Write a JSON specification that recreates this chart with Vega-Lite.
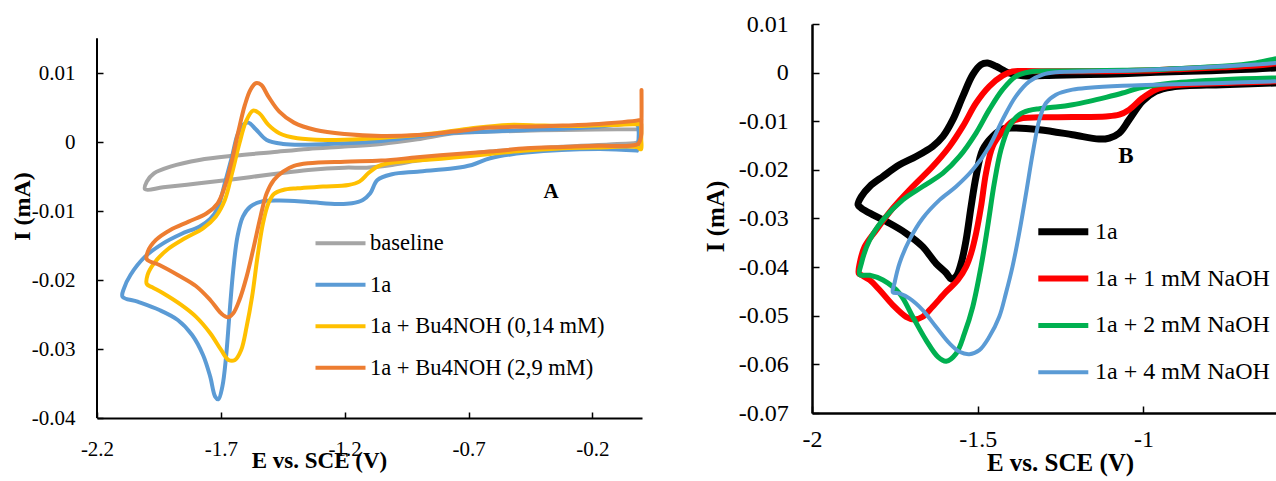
{
"$schema": "https://vega.github.io/schema/vega-lite/v6.json",
"autosize": {"type": "pad"},
"padding": {"left": 10, "top": 12, "right": 0, "bottom": 6},
"background": "white",
"bounds": "flush",
"spacing": 170,
"config": {"view": {"stroke": null}, "axis": {"grid": false, "labelFont": "Liberation Serif", "titleFont": "Liberation Serif", "labelColor": "black", "titleColor": "black", "domainColor": "black", "tickColor": "black", "labelFlush": false, "labelOverlap": false}},
"datasets": {
"a": [
{"s":"baseline","i":1,"E":-0.004,"I":0.00193},{"s":"baseline","i":2,"E":-0.320,"I":0.00179},{"s":"baseline","i":3,"E":-0.613,"I":0.00155},{"s":"baseline","i":4,"E":-0.760,"I":0.00131},{"s":"baseline","i":5,"E":-0.907,"I":0.00044},{"s":"baseline","i":6,"E":-1.053,"I":-0.00024},{"s":"baseline","i":7,"E":-1.200,"I":-0.00063},{"s":"baseline","i":8,"E":-1.347,"I":-0.00097},{"s":"baseline","i":9,"E":-1.493,"I":-0.00145},{"s":"baseline","i":10,"E":-1.640,"I":-0.00193},{"s":"baseline","i":11,"E":-1.787,"I":-0.00256},{"s":"baseline","i":12,"E":-1.904,"I":-0.00353},{"s":"baseline","i":13,"E":-1.970,"I":-0.0045},{"s":"baseline","i":14,"E":-1.999,"I":-0.00571},{"s":"baseline","i":15,"E":-2.006,"I":-0.00682},{"s":"baseline","i":16,"E":-1.933,"I":-0.00653},{"s":"baseline","i":17,"E":-1.787,"I":-0.00595},{"s":"baseline","i":18,"E":-1.640,"I":-0.00532},{"s":"baseline","i":19,"E":-1.493,"I":-0.00464},{"s":"baseline","i":20,"E":-1.347,"I":-0.00401},{"s":"baseline","i":21,"E":-1.200,"I":-0.00368},{"s":"baseline","i":22,"E":-1.112,"I":-0.00368},{"s":"baseline","i":23,"E":-1.009,"I":-0.00329},{"s":"baseline","i":24,"E":-0.907,"I":-0.00266},{"s":"baseline","i":25,"E":-0.760,"I":-0.00198},{"s":"baseline","i":26,"E":-0.613,"I":-0.00135},{"s":"baseline","i":27,"E":-0.320,"I":-0.00063},{"s":"baseline","i":28,"E":-0.100,"I":-0.00024},{"s":"baseline","i":29,"E":-0.012,"I":0.0001},{"s":"baseline","i":30,"E":-0.004,"I":0.00106},{"s":"baseline","i":31,"E":-0.004,"I":0.00193},
{"s":"1a","i":1,"E":-0.020,"I":-0.00121},{"s":"1a","i":2,"E":-0.174,"I":-0.00097},{"s":"1a","i":3,"E":-0.467,"I":-0.0015},{"s":"1a","i":4,"E":-0.613,"I":-0.00232},{"s":"1a","i":5,"E":-0.687,"I":-0.00329},{"s":"1a","i":6,"E":-0.760,"I":-0.00377},{"s":"1a","i":7,"E":-0.907,"I":-0.00426},{"s":"1a","i":8,"E":-1.009,"I":-0.00464},{"s":"1a","i":9,"E":-1.068,"I":-0.00547},{"s":"1a","i":10,"E":-1.097,"I":-0.0074},{"s":"1a","i":11,"E":-1.127,"I":-0.00837},{"s":"1a","i":12,"E":-1.171,"I":-0.00885},{"s":"1a","i":13,"E":-1.229,"I":-0.00895},{"s":"1a","i":14,"E":-1.347,"I":-0.00866},{"s":"1a","i":15,"E":-1.464,"I":-0.00846},{"s":"1a","i":16,"E":-1.537,"I":-0.00861},{"s":"1a","i":17,"E":-1.581,"I":-0.00933},{"s":"1a","i":18,"E":-1.611,"I":-0.01079},{"s":"1a","i":19,"E":-1.633,"I":-0.01369},{"s":"1a","i":20,"E":-1.650,"I":-0.01852},{"s":"1a","i":21,"E":-1.665,"I":-0.02481},{"s":"1a","i":22,"E":-1.679,"I":-0.0311},{"s":"1a","i":23,"E":-1.694,"I":-0.03545},{"s":"1a","i":24,"E":-1.710,"I":-0.03729},{"s":"1a","i":25,"E":-1.723,"I":-0.0369},{"s":"1a","i":26,"E":-1.743,"I":-0.034},{"s":"1a","i":27,"E":-1.772,"I":-0.03086},{"s":"1a","i":28,"E":-1.816,"I":-0.02796},{"s":"1a","i":29,"E":-1.874,"I":-0.02578},{"s":"1a","i":30,"E":-1.948,"I":-0.02433},{"s":"1a","i":31,"E":-2.036,"I":-0.02312},{"s":"1a","i":32,"E":-2.097,"I":-0.0224},{"s":"1a","i":33,"E":-2.091,"I":-0.02118},{"s":"1a","i":34,"E":-2.065,"I":-0.01925},{"s":"1a","i":35,"E":-2.006,"I":-0.01659},{"s":"1a","i":36,"E":-1.933,"I":-0.01466},{"s":"1a","i":37,"E":-1.860,"I":-0.0133},{"s":"1a","i":38,"E":-1.787,"I":-0.01224},{"s":"1a","i":39,"E":-1.743,"I":-0.01112},{"s":"1a","i":40,"E":-1.713,"I":-0.00958},{"s":"1a","i":41,"E":-1.684,"I":-0.00595},{"s":"1a","i":42,"E":-1.655,"I":-0.00208},{"s":"1a","i":43,"E":-1.633,"I":0.00106},{"s":"1a","i":44,"E":-1.611,"I":0.00252},{"s":"1a","i":45,"E":-1.589,"I":0.00285},{"s":"1a","i":46,"E":-1.559,"I":0.00189},{"s":"1a","i":47,"E":-1.515,"I":0.00034},{"s":"1a","i":48,"E":-1.449,"I":-0.00024},{"s":"1a","i":49,"E":-1.347,"I":-0.00034},{"s":"1a","i":50,"E":-1.200,"I":-0.00015},{"s":"1a","i":51,"E":-1.053,"I":0.00019},{"s":"1a","i":52,"E":-0.907,"I":0.00082},{"s":"1a","i":53,"E":-0.760,"I":0.0014},{"s":"1a","i":54,"E":-0.613,"I":0.00155},{"s":"1a","i":55,"E":-0.467,"I":0.00179},{"s":"1a","i":56,"E":-0.320,"I":0.00198},{"s":"1a","i":57,"E":-0.174,"I":0.00227},{"s":"1a","i":58,"E":-0.020,"I":0.00256},{"s":"1a","i":59,"E":-0.014,"I":0.00179},{"s":"1a","i":60,"E":-0.016,"I":-0.0004},{"s":"1a","i":61,"E":-0.020,"I":-0.00121},
{"s":"1a + Bu4NOH (0,14 mM)","i":1,"E":-0.003,"I":0.00266},{"s":"1a + Bu4NOH (0,14 mM)","i":2,"E":-0.003,"I":0.0005},{"s":"1a + Bu4NOH (0,14 mM)","i":3,"E":-0.004,"I":-0.00102},{"s":"1a + Bu4NOH (0,14 mM)","i":4,"E":-0.020,"I":-0.0007},{"s":"1a + Bu4NOH (0,14 mM)","i":5,"E":-0.174,"I":-0.00075},{"s":"1a + Bu4NOH (0,14 mM)","i":6,"E":-0.320,"I":-0.00087},{"s":"1a + Bu4NOH (0,14 mM)","i":7,"E":-0.467,"I":-0.00121},{"s":"1a + Bu4NOH (0,14 mM)","i":8,"E":-0.613,"I":-0.00169},{"s":"1a + Bu4NOH (0,14 mM)","i":9,"E":-0.760,"I":-0.00222},{"s":"1a + Bu4NOH (0,14 mM)","i":10,"E":-0.907,"I":-0.00266},{"s":"1a + Bu4NOH (0,14 mM)","i":11,"E":-1.024,"I":-0.00305},{"s":"1a + Bu4NOH (0,14 mM)","i":12,"E":-1.068,"I":-0.00353},{"s":"1a + Bu4NOH (0,14 mM)","i":13,"E":-1.105,"I":-0.0045},{"s":"1a + Bu4NOH (0,14 mM)","i":14,"E":-1.141,"I":-0.00571},{"s":"1a + Bu4NOH (0,14 mM)","i":15,"E":-1.185,"I":-0.00619},{"s":"1a + Bu4NOH (0,14 mM)","i":16,"E":-1.288,"I":-0.00643},{"s":"1a + Bu4NOH (0,14 mM)","i":17,"E":-1.391,"I":-0.00667},{"s":"1a + Bu4NOH (0,14 mM)","i":18,"E":-1.449,"I":-0.00692},{"s":"1a + Bu4NOH (0,14 mM)","i":19,"E":-1.486,"I":-0.0075},{"s":"1a + Bu4NOH (0,14 mM)","i":20,"E":-1.508,"I":-0.00885},{"s":"1a + Bu4NOH (0,14 mM)","i":21,"E":-1.530,"I":-0.01175},{"s":"1a + Bu4NOH (0,14 mM)","i":22,"E":-1.552,"I":-0.01659},{"s":"1a + Bu4NOH (0,14 mM)","i":23,"E":-1.574,"I":-0.0224},{"s":"1a + Bu4NOH (0,14 mM)","i":24,"E":-1.596,"I":-0.02675},{"s":"1a + Bu4NOH (0,14 mM)","i":25,"E":-1.618,"I":-0.03013},{"s":"1a + Bu4NOH (0,14 mM)","i":26,"E":-1.643,"I":-0.03158},{"s":"1a + Bu4NOH (0,14 mM)","i":27,"E":-1.669,"I":-0.03158},{"s":"1a + Bu4NOH (0,14 mM)","i":28,"E":-1.699,"I":-0.03013},{"s":"1a + Bu4NOH (0,14 mM)","i":29,"E":-1.743,"I":-0.02771},{"s":"1a + Bu4NOH (0,14 mM)","i":30,"E":-1.801,"I":-0.0253},{"s":"1a + Bu4NOH (0,14 mM)","i":31,"E":-1.860,"I":-0.0236},{"s":"1a + Bu4NOH (0,14 mM)","i":32,"E":-1.933,"I":-0.02191},{"s":"1a + Bu4NOH (0,14 mM)","i":33,"E":-1.977,"I":-0.02104},{"s":"1a + Bu4NOH (0,14 mM)","i":34,"E":-1.999,"I":-0.02056},{"s":"1a + Bu4NOH (0,14 mM)","i":35,"E":-1.996,"I":-0.01925},{"s":"1a + Bu4NOH (0,14 mM)","i":36,"E":-1.970,"I":-0.01756},{"s":"1a + Bu4NOH (0,14 mM)","i":37,"E":-1.918,"I":-0.01562},{"s":"1a + Bu4NOH (0,14 mM)","i":38,"E":-1.845,"I":-0.01393},{"s":"1a + Bu4NOH (0,14 mM)","i":39,"E":-1.772,"I":-0.01248},{"s":"1a + Bu4NOH (0,14 mM)","i":40,"E":-1.721,"I":-0.01079},{"s":"1a + Bu4NOH (0,14 mM)","i":41,"E":-1.684,"I":-0.00837},{"s":"1a + Bu4NOH (0,14 mM)","i":42,"E":-1.655,"I":-0.0045},{"s":"1a + Bu4NOH (0,14 mM)","i":43,"E":-1.625,"I":-0.00015},{"s":"1a + Bu4NOH (0,14 mM)","i":44,"E":-1.599,"I":0.003},{"s":"1a + Bu4NOH (0,14 mM)","i":45,"E":-1.570,"I":0.00459},{"s":"1a + Bu4NOH (0,14 mM)","i":46,"E":-1.545,"I":0.00421},{"s":"1a + Bu4NOH (0,14 mM)","i":47,"E":-1.508,"I":0.00252},{"s":"1a + Bu4NOH (0,14 mM)","i":48,"E":-1.464,"I":0.00131},{"s":"1a + Bu4NOH (0,14 mM)","i":49,"E":-1.391,"I":0.00058},{"s":"1a + Bu4NOH (0,14 mM)","i":50,"E":-1.273,"I":0.00034},{"s":"1a + Bu4NOH (0,14 mM)","i":51,"E":-1.127,"I":0.00048},{"s":"1a + Bu4NOH (0,14 mM)","i":52,"E":-0.980,"I":0.00082},{"s":"1a + Bu4NOH (0,14 mM)","i":53,"E":-0.833,"I":0.00131},{"s":"1a + Bu4NOH (0,14 mM)","i":54,"E":-0.687,"I":0.00203},{"s":"1a + Bu4NOH (0,14 mM)","i":55,"E":-0.540,"I":0.00252},{"s":"1a + Bu4NOH (0,14 mM)","i":56,"E":-0.394,"I":0.00242},{"s":"1a + Bu4NOH (0,14 mM)","i":57,"E":-0.247,"I":0.00237},{"s":"1a + Bu4NOH (0,14 mM)","i":58,"E":-0.100,"I":0.00252},{"s":"1a + Bu4NOH (0,14 mM)","i":59,"E":-0.005,"I":0.00266},{"s":"1a + Bu4NOH (0,14 mM)","i":60,"E":-0.003,"I":0.00266},
{"s":"1a + Bu4NOH (2,9 mM)","i":1,"E":-0.002,"I":0.0076},{"s":"1a + Bu4NOH (2,9 mM)","i":2,"E":-0.002,"I":0.003},{"s":"1a + Bu4NOH (2,9 mM)","i":3,"E":-0.004,"I":0.0008},{"s":"1a + Bu4NOH (2,9 mM)","i":4,"E":-0.015,"I":-0.0002},{"s":"1a + Bu4NOH (2,9 mM)","i":5,"E":-0.050,"I":-0.0005},{"s":"1a + Bu4NOH (2,9 mM)","i":6,"E":-0.174,"I":-0.0005},{"s":"1a + Bu4NOH (2,9 mM)","i":7,"E":-0.320,"I":-0.00068},{"s":"1a + Bu4NOH (2,9 mM)","i":8,"E":-0.467,"I":-0.00087},{"s":"1a + Bu4NOH (2,9 mM)","i":9,"E":-0.613,"I":-0.00135},{"s":"1a + Bu4NOH (2,9 mM)","i":10,"E":-0.760,"I":-0.00174},{"s":"1a + Bu4NOH (2,9 mM)","i":11,"E":-0.907,"I":-0.00218},{"s":"1a + Bu4NOH (2,9 mM)","i":12,"E":-1.053,"I":-0.00266},{"s":"1a + Bu4NOH (2,9 mM)","i":13,"E":-1.200,"I":-0.00281},{"s":"1a + Bu4NOH (2,9 mM)","i":14,"E":-1.347,"I":-0.00305},{"s":"1a + Bu4NOH (2,9 mM)","i":15,"E":-1.405,"I":-0.00343},{"s":"1a + Bu4NOH (2,9 mM)","i":16,"E":-1.449,"I":-0.00426},{"s":"1a + Bu4NOH (2,9 mM)","i":17,"E":-1.486,"I":-0.00547},{"s":"1a + Bu4NOH (2,9 mM)","i":18,"E":-1.515,"I":-0.0074},{"s":"1a + Bu4NOH (2,9 mM)","i":19,"E":-1.540,"I":-0.01079},{"s":"1a + Bu4NOH (2,9 mM)","i":20,"E":-1.567,"I":-0.01514},{"s":"1a + Bu4NOH (2,9 mM)","i":21,"E":-1.596,"I":-0.01949},{"s":"1a + Bu4NOH (2,9 mM)","i":22,"E":-1.625,"I":-0.02288},{"s":"1a + Bu4NOH (2,9 mM)","i":23,"E":-1.650,"I":-0.02481},{"s":"1a + Bu4NOH (2,9 mM)","i":24,"E":-1.672,"I":-0.02539},{"s":"1a + Bu4NOH (2,9 mM)","i":25,"E":-1.699,"I":-0.02481},{"s":"1a + Bu4NOH (2,9 mM)","i":26,"E":-1.743,"I":-0.02288},{"s":"1a + Bu4NOH (2,9 mM)","i":27,"E":-1.801,"I":-0.02085},{"s":"1a + Bu4NOH (2,9 mM)","i":28,"E":-1.874,"I":-0.01925},{"s":"1a + Bu4NOH (2,9 mM)","i":29,"E":-1.948,"I":-0.0178},{"s":"1a + Bu4NOH (2,9 mM)","i":30,"E":-1.999,"I":-0.01698},{"s":"1a + Bu4NOH (2,9 mM)","i":31,"E":-1.995,"I":-0.01586},{"s":"1a + Bu4NOH (2,9 mM)","i":32,"E":-1.962,"I":-0.01417},{"s":"1a + Bu4NOH (2,9 mM)","i":33,"E":-1.904,"I":-0.01272},{"s":"1a + Bu4NOH (2,9 mM)","i":34,"E":-1.830,"I":-0.01151},{"s":"1a + Bu4NOH (2,9 mM)","i":35,"E":-1.757,"I":-0.0103},{"s":"1a + Bu4NOH (2,9 mM)","i":36,"E":-1.713,"I":-0.00885},{"s":"1a + Bu4NOH (2,9 mM)","i":37,"E":-1.684,"I":-0.00643},{"s":"1a + Bu4NOH (2,9 mM)","i":38,"E":-1.655,"I":-0.00256},{"s":"1a + Bu4NOH (2,9 mM)","i":39,"E":-1.628,"I":0.00179},{"s":"1a + Bu4NOH (2,9 mM)","i":40,"E":-1.603,"I":0.00542},{"s":"1a + Bu4NOH (2,9 mM)","i":41,"E":-1.581,"I":0.00759},{"s":"1a + Bu4NOH (2,9 mM)","i":42,"E":-1.559,"I":0.00856},{"s":"1a + Bu4NOH (2,9 mM)","i":43,"E":-1.537,"I":0.00832},{"s":"1a + Bu4NOH (2,9 mM)","i":44,"E":-1.508,"I":0.00663},{"s":"1a + Bu4NOH (2,9 mM)","i":45,"E":-1.464,"I":0.00445},{"s":"1a + Bu4NOH (2,9 mM)","i":46,"E":-1.405,"I":0.00285},{"s":"1a + Bu4NOH (2,9 mM)","i":47,"E":-1.317,"I":0.00179},{"s":"1a + Bu4NOH (2,9 mM)","i":48,"E":-1.200,"I":0.00121},{"s":"1a + Bu4NOH (2,9 mM)","i":49,"E":-1.053,"I":0.00092},{"s":"1a + Bu4NOH (2,9 mM)","i":50,"E":-0.907,"I":0.00106},{"s":"1a + Bu4NOH (2,9 mM)","i":51,"E":-0.760,"I":0.00155},{"s":"1a + Bu4NOH (2,9 mM)","i":52,"E":-0.613,"I":0.00213},{"s":"1a + Bu4NOH (2,9 mM)","i":53,"E":-0.467,"I":0.00227},{"s":"1a + Bu4NOH (2,9 mM)","i":54,"E":-0.320,"I":0.00242},{"s":"1a + Bu4NOH (2,9 mM)","i":55,"E":-0.174,"I":0.00266},{"s":"1a + Bu4NOH (2,9 mM)","i":56,"E":-0.005,"I":0.00324},{"s":"1a + Bu4NOH (2,9 mM)","i":57,"E":-0.002,"I":0.0033}
],
"b": [
{"s":"1a","i":1,"E":-0.603,"I":-0.00213},{"s":"1a","i":2,"E":-0.762,"I":-0.00247},{"s":"1a","i":3,"E":-0.913,"I":-0.00295},{"s":"1a","i":4,"E":-0.963,"I":-0.00385},{"s":"1a","i":5,"E":-1.003,"I":-0.00591},{"s":"1a","i":6,"E":-1.043,"I":-0.00968},{"s":"1a","i":7,"E":-1.073,"I":-0.01243},{"s":"1a","i":8,"E":-1.103,"I":-0.01346},{"s":"1a","i":9,"E":-1.134,"I":-0.01367},{"s":"1a","i":10,"E":-1.214,"I":-0.01277},{"s":"1a","i":11,"E":-1.314,"I":-0.01174},{"s":"1a","i":12,"E":-1.385,"I":-0.0114},{"s":"1a","i":13,"E":-1.425,"I":-0.01161},{"s":"1a","i":14,"E":-1.455,"I":-0.01312},{"s":"1a","i":15,"E":-1.485,"I":-0.01587},{"s":"1a","i":16,"E":-1.505,"I":-0.02136},{"s":"1a","i":17,"E":-1.520,"I":-0.02754},{"s":"1a","i":18,"E":-1.535,"I":-0.03441},{"s":"1a","i":19,"E":-1.550,"I":-0.03922},{"s":"1a","i":20,"E":-1.565,"I":-0.04189},{"s":"1a","i":21,"E":-1.580,"I":-0.04245},{"s":"1a","i":22,"E":-1.595,"I":-0.04121},{"s":"1a","i":23,"E":-1.626,"I":-0.03922},{"s":"1a","i":24,"E":-1.666,"I":-0.03578},{"s":"1a","i":25,"E":-1.716,"I":-0.03304},{"s":"1a","i":26,"E":-1.766,"I":-0.03098},{"s":"1a","i":27,"E":-1.816,"I":-0.02926},{"s":"1a","i":28,"E":-1.851,"I":-0.02788},{"s":"1a","i":29,"E":-1.861,"I":-0.0272},{"s":"1a","i":30,"E":-1.851,"I":-0.02548},{"s":"1a","i":31,"E":-1.826,"I":-0.02342},{"s":"1a","i":32,"E":-1.786,"I":-0.02136},{"s":"1a","i":33,"E":-1.736,"I":-0.01896},{"s":"1a","i":34,"E":-1.686,"I":-0.01724},{"s":"1a","i":35,"E":-1.636,"I":-0.01518},{"s":"1a","i":36,"E":-1.605,"I":-0.01312},{"s":"1a","i":37,"E":-1.575,"I":-0.00968},{"s":"1a","i":38,"E":-1.545,"I":-0.00488},{"s":"1a","i":39,"E":-1.515,"I":-0.00041},{"s":"1a","i":40,"E":-1.490,"I":0.00165},{"s":"1a","i":41,"E":-1.470,"I":0.00199},{"s":"1a","i":42,"E":-1.445,"I":0.0013},{"s":"1a","i":43,"E":-1.405,"I":-0.00007},{"s":"1a","i":44,"E":-1.364,"I":-0.00062},{"s":"1a","i":45,"E":-1.264,"I":-0.00055},{"s":"1a","i":46,"E":-1.164,"I":-0.00041},{"s":"1a","i":47,"E":-1.063,"I":-0.00021},{"s":"1a","i":48,"E":-0.963,"I":0.00007},{"s":"1a","i":49,"E":-0.862,"I":0.00027},{"s":"1a","i":50,"E":-0.762,"I":0.00048},{"s":"1a","i":51,"E":-0.662,"I":0.00076},{"s":"1a","i":52,"E":-0.603,"I":0.00096},
{"s":"1a + 1 mM NaOH","i":1,"E":-0.603,"I":-0.00179},{"s":"1a + 1 mM NaOH","i":2,"E":-0.762,"I":-0.00213},{"s":"1a + 1 mM NaOH","i":3,"E":-0.913,"I":-0.00268},{"s":"1a + 1 mM NaOH","i":4,"E":-0.963,"I":-0.0035},{"s":"1a + 1 mM NaOH","i":5,"E":-1.003,"I":-0.00522},{"s":"1a + 1 mM NaOH","i":6,"E":-1.043,"I":-0.00762},{"s":"1a + 1 mM NaOH","i":7,"E":-1.073,"I":-0.00865},{"s":"1a + 1 mM NaOH","i":8,"E":-1.113,"I":-0.009},{"s":"1a + 1 mM NaOH","i":9,"E":-1.214,"I":-0.00913},{"s":"1a + 1 mM NaOH","i":10,"E":-1.314,"I":-0.0092},{"s":"1a + 1 mM NaOH","i":11,"E":-1.364,"I":-0.00934},{"s":"1a + 1 mM NaOH","i":12,"E":-1.395,"I":-0.01003},{"s":"1a + 1 mM NaOH","i":13,"E":-1.425,"I":-0.01209},{"s":"1a + 1 mM NaOH","i":14,"E":-1.455,"I":-0.01518},{"s":"1a + 1 mM NaOH","i":15,"E":-1.475,"I":-0.02067},{"s":"1a + 1 mM NaOH","i":16,"E":-1.490,"I":-0.02754},{"s":"1a + 1 mM NaOH","i":17,"E":-1.505,"I":-0.03304},{"s":"1a + 1 mM NaOH","i":18,"E":-1.520,"I":-0.03716},{"s":"1a + 1 mM NaOH","i":19,"E":-1.535,"I":-0.0399},{"s":"1a + 1 mM NaOH","i":20,"E":-1.560,"I":-0.04265},{"s":"1a + 1 mM NaOH","i":21,"E":-1.595,"I":-0.04505},{"s":"1a + 1 mM NaOH","i":22,"E":-1.636,"I":-0.04815},{"s":"1a + 1 mM NaOH","i":23,"E":-1.666,"I":-0.05021},{"s":"1a + 1 mM NaOH","i":24,"E":-1.691,"I":-0.05076},{"s":"1a + 1 mM NaOH","i":25,"E":-1.716,"I":-0.05021},{"s":"1a + 1 mM NaOH","i":26,"E":-1.756,"I":-0.0478},{"s":"1a + 1 mM NaOH","i":27,"E":-1.796,"I":-0.04471},{"s":"1a + 1 mM NaOH","i":28,"E":-1.826,"I":-0.04265},{"s":"1a + 1 mM NaOH","i":29,"E":-1.851,"I":-0.04162},{"s":"1a + 1 mM NaOH","i":30,"E":-1.859,"I":-0.04128},{"s":"1a + 1 mM NaOH","i":31,"E":-1.856,"I":-0.03922},{"s":"1a + 1 mM NaOH","i":32,"E":-1.841,"I":-0.03578},{"s":"1a + 1 mM NaOH","i":33,"E":-1.806,"I":-0.03235},{"s":"1a + 1 mM NaOH","i":34,"E":-1.756,"I":-0.02788},{"s":"1a + 1 mM NaOH","i":35,"E":-1.696,"I":-0.02342},{"s":"1a + 1 mM NaOH","i":36,"E":-1.636,"I":-0.0193},{"s":"1a + 1 mM NaOH","i":37,"E":-1.585,"I":-0.01518},{"s":"1a + 1 mM NaOH","i":38,"E":-1.545,"I":-0.01106},{"s":"1a + 1 mM NaOH","i":39,"E":-1.505,"I":-0.00625},{"s":"1a + 1 mM NaOH","i":40,"E":-1.465,"I":-0.00282},{"s":"1a + 1 mM NaOH","i":41,"E":-1.425,"I":-0.00062},{"s":"1a + 1 mM NaOH","i":42,"E":-1.395,"I":0.00027},{"s":"1a + 1 mM NaOH","i":43,"E":-1.364,"I":0.00034},{"s":"1a + 1 mM NaOH","i":44,"E":-1.264,"I":0.00027},{"s":"1a + 1 mM NaOH","i":45,"E":-1.164,"I":0.00027},{"s":"1a + 1 mM NaOH","i":46,"E":-1.063,"I":0.00034},{"s":"1a + 1 mM NaOH","i":47,"E":-0.963,"I":0.00048},{"s":"1a + 1 mM NaOH","i":48,"E":-0.862,"I":0.00082},{"s":"1a + 1 mM NaOH","i":49,"E":-0.762,"I":0.0011},{"s":"1a + 1 mM NaOH","i":50,"E":-0.662,"I":0.00144},{"s":"1a + 1 mM NaOH","i":51,"E":-0.603,"I":0.00185},
{"s":"1a + 2 mM NaOH","i":1,"E":-0.603,"I":-0.0011},{"s":"1a + 2 mM NaOH","i":2,"E":-0.762,"I":-0.00144},{"s":"1a + 2 mM NaOH","i":3,"E":-0.913,"I":-0.00213},{"s":"1a + 2 mM NaOH","i":4,"E":-1.013,"I":-0.00316},{"s":"1a + 2 mM NaOH","i":5,"E":-1.063,"I":-0.00419},{"s":"1a + 2 mM NaOH","i":6,"E":-1.113,"I":-0.00508},{"s":"1a + 2 mM NaOH","i":7,"E":-1.164,"I":-0.00591},{"s":"1a + 2 mM NaOH","i":8,"E":-1.214,"I":-0.00659},{"s":"1a + 2 mM NaOH","i":9,"E":-1.264,"I":-0.00707},{"s":"1a + 2 mM NaOH","i":10,"E":-1.314,"I":-0.00742},{"s":"1a + 2 mM NaOH","i":11,"E":-1.344,"I":-0.00776},{"s":"1a + 2 mM NaOH","i":12,"E":-1.375,"I":-0.00865},{"s":"1a + 2 mM NaOH","i":13,"E":-1.405,"I":-0.01106},{"s":"1a + 2 mM NaOH","i":14,"E":-1.430,"I":-0.01587},{"s":"1a + 2 mM NaOH","i":15,"E":-1.450,"I":-0.02273},{"s":"1a + 2 mM NaOH","i":16,"E":-1.470,"I":-0.03166},{"s":"1a + 2 mM NaOH","i":17,"E":-1.490,"I":-0.0399},{"s":"1a + 2 mM NaOH","i":18,"E":-1.515,"I":-0.04815},{"s":"1a + 2 mM NaOH","i":19,"E":-1.540,"I":-0.05364},{"s":"1a + 2 mM NaOH","i":20,"E":-1.565,"I":-0.05776},{"s":"1a + 2 mM NaOH","i":21,"E":-1.595,"I":-0.05934},{"s":"1a + 2 mM NaOH","i":22,"E":-1.620,"I":-0.05845},{"s":"1a + 2 mM NaOH","i":23,"E":-1.656,"I":-0.05501},{"s":"1a + 2 mM NaOH","i":24,"E":-1.696,"I":-0.05021},{"s":"1a + 2 mM NaOH","i":25,"E":-1.736,"I":-0.0454},{"s":"1a + 2 mM NaOH","i":26,"E":-1.786,"I":-0.04265},{"s":"1a + 2 mM NaOH","i":27,"E":-1.826,"I":-0.04168},{"s":"1a + 2 mM NaOH","i":28,"E":-1.856,"I":-0.04155},{"s":"1a + 2 mM NaOH","i":29,"E":-1.851,"I":-0.03922},{"s":"1a + 2 mM NaOH","i":30,"E":-1.826,"I":-0.03441},{"s":"1a + 2 mM NaOH","i":31,"E":-1.786,"I":-0.03029},{"s":"1a + 2 mM NaOH","i":32,"E":-1.726,"I":-0.02617},{"s":"1a + 2 mM NaOH","i":33,"E":-1.666,"I":-0.02342},{"s":"1a + 2 mM NaOH","i":34,"E":-1.605,"I":-0.02067},{"s":"1a + 2 mM NaOH","i":35,"E":-1.555,"I":-0.01724},{"s":"1a + 2 mM NaOH","i":36,"E":-1.505,"I":-0.01243},{"s":"1a + 2 mM NaOH","i":37,"E":-1.465,"I":-0.00762},{"s":"1a + 2 mM NaOH","i":38,"E":-1.425,"I":-0.0035},{"s":"1a + 2 mM NaOH","i":39,"E":-1.385,"I":-0.00076},{"s":"1a + 2 mM NaOH","i":40,"E":-1.344,"I":0.00014},{"s":"1a + 2 mM NaOH","i":41,"E":-1.264,"I":0.00034},{"s":"1a + 2 mM NaOH","i":42,"E":-1.164,"I":0.00041},{"s":"1a + 2 mM NaOH","i":43,"E":-1.063,"I":0.00048},{"s":"1a + 2 mM NaOH","i":44,"E":-0.963,"I":0.00062},{"s":"1a + 2 mM NaOH","i":45,"E":-0.862,"I":0.00096},{"s":"1a + 2 mM NaOH","i":46,"E":-0.762,"I":0.0013},{"s":"1a + 2 mM NaOH","i":47,"E":-0.662,"I":0.00199},{"s":"1a + 2 mM NaOH","i":48,"E":-0.603,"I":0.00282},
{"s":"1a + 4 mM NaOH","i":1,"E":-0.603,"I":-0.00179},{"s":"1a + 4 mM NaOH","i":2,"E":-0.762,"I":-0.00213},{"s":"1a + 4 mM NaOH","i":3,"E":-0.963,"I":-0.00247},{"s":"1a + 4 mM NaOH","i":4,"E":-1.063,"I":-0.00268},{"s":"1a + 4 mM NaOH","i":5,"E":-1.164,"I":-0.00309},{"s":"1a + 4 mM NaOH","i":6,"E":-1.214,"I":-0.0035},{"s":"1a + 4 mM NaOH","i":7,"E":-1.264,"I":-0.00453},{"s":"1a + 4 mM NaOH","i":8,"E":-1.294,"I":-0.00625},{"s":"1a + 4 mM NaOH","i":9,"E":-1.314,"I":-0.00968},{"s":"1a + 4 mM NaOH","i":10,"E":-1.334,"I":-0.01655},{"s":"1a + 4 mM NaOH","i":11,"E":-1.354,"I":-0.02479},{"s":"1a + 4 mM NaOH","i":12,"E":-1.375,"I":-0.03304},{"s":"1a + 4 mM NaOH","i":13,"E":-1.395,"I":-0.0399},{"s":"1a + 4 mM NaOH","i":14,"E":-1.415,"I":-0.0454},{"s":"1a + 4 mM NaOH","i":15,"E":-1.435,"I":-0.05021},{"s":"1a + 4 mM NaOH","i":16,"E":-1.465,"I":-0.05433},{"s":"1a + 4 mM NaOH","i":17,"E":-1.495,"I":-0.05707},{"s":"1a + 4 mM NaOH","i":18,"E":-1.525,"I":-0.0579},{"s":"1a + 4 mM NaOH","i":19,"E":-1.555,"I":-0.05742},{"s":"1a + 4 mM NaOH","i":20,"E":-1.585,"I":-0.0557},{"s":"1a + 4 mM NaOH","i":21,"E":-1.626,"I":-0.05227},{"s":"1a + 4 mM NaOH","i":22,"E":-1.666,"I":-0.04883},{"s":"1a + 4 mM NaOH","i":23,"E":-1.706,"I":-0.04643},{"s":"1a + 4 mM NaOH","i":24,"E":-1.736,"I":-0.0454},{"s":"1a + 4 mM NaOH","i":25,"E":-1.756,"I":-0.04519},{"s":"1a + 4 mM NaOH","i":26,"E":-1.751,"I":-0.04327},{"s":"1a + 4 mM NaOH","i":27,"E":-1.736,"I":-0.03922},{"s":"1a + 4 mM NaOH","i":28,"E":-1.706,"I":-0.03441},{"s":"1a + 4 mM NaOH","i":29,"E":-1.666,"I":-0.02995},{"s":"1a + 4 mM NaOH","i":30,"E":-1.615,"I":-0.02617},{"s":"1a + 4 mM NaOH","i":31,"E":-1.565,"I":-0.02342},{"s":"1a + 4 mM NaOH","i":32,"E":-1.515,"I":-0.01999},{"s":"1a + 4 mM NaOH","i":33,"E":-1.465,"I":-0.01518},{"s":"1a + 4 mM NaOH","i":34,"E":-1.425,"I":-0.00968},{"s":"1a + 4 mM NaOH","i":35,"E":-1.385,"I":-0.00488},{"s":"1a + 4 mM NaOH","i":36,"E":-1.344,"I":-0.00179},{"s":"1a + 4 mM NaOH","i":37,"E":-1.304,"I":-0.00041},{"s":"1a + 4 mM NaOH","i":38,"E":-1.264,"I":0.00007},{"s":"1a + 4 mM NaOH","i":39,"E":-1.164,"I":0.00027},{"s":"1a + 4 mM NaOH","i":40,"E":-1.063,"I":0.00041},{"s":"1a + 4 mM NaOH","i":41,"E":-0.963,"I":0.00062},{"s":"1a + 4 mM NaOH","i":42,"E":-0.862,"I":0.00096},{"s":"1a + 4 mM NaOH","i":43,"E":-0.762,"I":0.0013},{"s":"1a + 4 mM NaOH","i":44,"E":-0.662,"I":0.00165},{"s":"1a + 4 mM NaOH","i":45,"E":-0.603,"I":0.00199}
]
},
"hconcat": [
{
"width": 545, "height": 394,
"layer": [
{
"data": {"name": "a"},
"mark": {"type": "line", "interpolate": "catmull-rom", "strokeWidth": 4, "strokeCap": "round", "strokeJoin": "round"},
"encoding": {
"x": {"field": "E", "type": "quantitative", "scale": {"domain": [-2.2, 0], "nice": false, "zero": false},
 "axis": {"title": "E vs. SCE (V)", "values": [-2.2, -1.7, -1.2, -0.7, -0.2], "format": "~g", "labelExpr": "replace(datum.label, '\u2212', '-')", "labelFontSize": 21, "labelBaseline": "alphabetic", "labelPadding": 43, "tickSize": -6, "tickWidth": 1.5, "domainWidth": 2, "titleFontSize": 23, "titleFontWeight": "bold", "titleX": 222, "titleY": 49, "titleBaseline": "alphabetic", "titleAlign": "center"}},
"y": {"field": "I", "type": "quantitative", "scale": {"domain": [-0.04, 0.01716], "nice": false, "zero": false},
 "axis": {"title": "I (mA)", "values": [-0.04, -0.03, -0.02, -0.01, 0, 0.01], "format": "~g", "labelExpr": "replace(datum.label, '\u2212', '-')", "labelFontSize": 21, "labelPadding": 28, "tickSize": -6, "tickWidth": 1.5, "domain": false, "titleFontSize": 24, "titleFontWeight": "bold", "titleX": -75, "titleY": 182, "titleBaseline": "middle", "titleAlign": "center"}},
"order": {"field": "i", "type": "quantitative"},
"color": {"field": "s", "type": "nominal",
 "scale": {"domain": ["baseline", "1a", "1a + Bu4NOH (0,14 mM)", "1a + Bu4NOH (2,9 mM)"], "range": ["#A5A5A5", "#5B9BD5", "#FFC000", "#ED7D31"]},
 "legend": {"orient": "none", "legendX": 216.5, "legendY": 209.3, "title": null, "symbolType": "stroke", "symbolSize": 2500, "symbolStrokeWidth": 4, "labelFont": "Liberation Serif", "labelFontSize": 22.5, "labelColor": "black", "clipHeight": 20, "rowPadding": 18.5, "labelOffset": 2.5, "padding": 0, "labelLimit": 0}}
}
},
{
"data": {"values": [{}]},
"mark": {"type": "rule", "color": "black", "strokeWidth": 2},
"encoding": {"x": {"datum": -2.2}, "y": {"datum": -0.04}, "y2": {"datum": 0.0151}}
},
{
"data": {"values": [{}]},
"mark": {"type": "text", "text": "A", "font": "Liberation Serif", "fontWeight": "bold", "fontSize": 21, "color": "black", "align": "center", "baseline": "middle"},
"encoding": {"x": {"datum": -0.367}, "y": {"datum": -0.00717}}
}
]
},
{
"width": 464, "height": 389,
"layer": [
{
"data": {"name": "b"},
"mark": {"type": "line", "interpolate": "catmull-rom", "strokeCap": "round", "strokeJoin": "round"},
"encoding": {
"x": {"field": "E", "type": "quantitative", "scale": {"domain": [-2, -0.6], "nice": false, "zero": false},
 "axis": {"title": "E vs. SCE (V)", "values": [-2, -1.5, -1], "format": "~g", "labelExpr": "replace(datum.label, '\u2212', '-')", "labelFontSize": 24, "labelBaseline": "alphabetic", "labelPadding": 40, "tickSize": -7, "tickWidth": 1.5, "domainWidth": 2.5, "titleFontSize": 25, "titleFontWeight": "bold", "titleX": 248, "titleY": 57, "titleBaseline": "alphabetic", "titleAlign": "center"}},
"y": {"field": "I", "type": "quantitative", "scale": {"domain": [-0.07, 0.01], "nice": false, "zero": false},
 "axis": {"title": "I (mA)", "values": [-0.07, -0.06, -0.05, -0.04, -0.03, -0.02, -0.01, 0, 0.01], "format": "~g", "labelExpr": "replace(datum.label, '\u2212', '-')", "labelFontSize": 24, "labelPadding": 30.7, "tickSize": -7, "tickWidth": 1.5, "domainWidth": 2.5, "titleFontSize": 25, "titleFontWeight": "bold", "titleX": -96.5, "titleY": 192, "titleBaseline": "middle", "titleAlign": "center"}},
"order": {"field": "i", "type": "quantitative"},
"color": {"field": "s", "type": "nominal",
 "scale": {"domain": ["1a", "1a + 1 mM NaOH", "1a + 2 mM NaOH", "1a + 4 mM NaOH"], "range": ["#000000", "#FF0000", "#00B050", "#5B9BD5"]},
 "legend": {"orient": "none", "legendX": 222.8, "legendY": 197.8, "title": null, "symbolType": "stroke", "symbolSize": 2500, "labelFont": "Liberation Serif", "labelFontSize": 24, "labelColor": "black", "clipHeight": 20, "rowPadding": 22.8, "labelOffset": 3.2, "padding": 0, "labelLimit": 0}},
"strokeWidth": {"field": "s", "type": "nominal",
 "scale": {"domain": ["1a", "1a + 1 mM NaOH", "1a + 2 mM NaOH", "1a + 4 mM NaOH"], "range": [7, 4, 4, 4]},
 "legend": {"orient": "none", "legendX": 222.8, "legendY": 197.8, "title": null, "symbolType": "stroke", "symbolSize": 2500, "labelFont": "Liberation Serif", "labelFontSize": 24, "labelColor": "black", "clipHeight": 20, "rowPadding": 22.8, "labelOffset": 3.2, "padding": 0, "labelLimit": 0}}
}
},
{
"data": {"values": [{}]},
"mark": {"type": "text", "text": "B", "font": "Liberation Serif", "fontWeight": "bold", "fontSize": 23, "color": "black", "align": "center", "baseline": "middle"},
"encoding": {"x": {"datum": -1.053}, "y": {"datum": -0.01707}}
}
]
}
],
"resolve": {"scale": {"color": "independent", "strokeWidth": "independent"}, "legend": {"color": "independent", "strokeWidth": "independent"}}
}
